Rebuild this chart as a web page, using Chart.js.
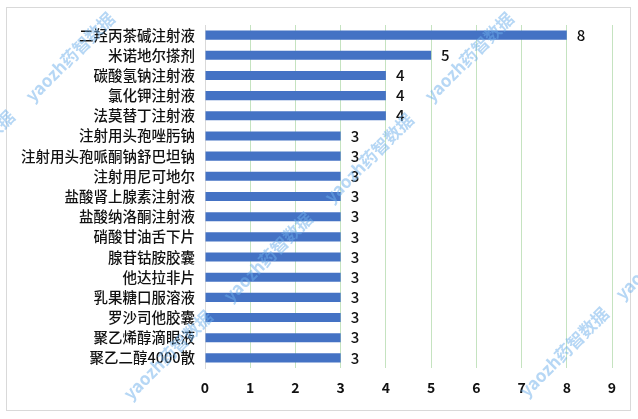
<!DOCTYPE html>
<html>
<head>
<meta charset="utf-8">
<script src="https://cdn.jsdelivr.net/npm/chart.js@4"></script>
<style>
  html, body { margin: 0; padding: 0; background: #fff; }
  #wrap { width: 638px; height: 419px; position: relative; }
</style>
</head>
<body>
<div id="wrap"><canvas id="grafica" width="638" height="419"></canvas></div>
<script>
// 药品名称 和 数量
const categorias = ["二羟丙茶碱注射液", "米诺地尔搽剂", "碳酸氢钠注射液", "氯化钾注射液", "法莫替丁注射液",
  "注射用头孢唑肟钠", "注射用头孢哌酮钠舒巴坦钠", "注射用尼可地尔", "盐酸肾上腺素注射液", "盐酸纳洛酮注射液",
  "硝酸甘油舌下片", "腺苷钴胺胶囊", "他达拉非片", "乳果糖口服溶液", "罗沙司他胶囊", "聚乙烯醇滴眼液", "聚乙二醇4000散"];
const valores = [8, 5, 4, 4, 4, 3, 3, 3, 3, 3, 3, 3, 3, 3, 3, 3, 3];
const marcaAgua = "yaozh药智数据";

const fuente = '"Noto Sans CJK SC", "Noto Sans", sans-serif';

// etiquetas al final de cada barra
const etiquetas = {
  id: 'etiquetas',
  afterDatasetsDraw(chart) {
    const ctx = chart.ctx;
    const meta = chart.getDatasetMeta(0);
    ctx.save();
    ctx.fillStyle = '#111';
    ctx.font = '500 15px ' + fuente;
    ctx.textAlign = 'left';
    ctx.textBaseline = 'middle';
    meta.data.forEach((bar, i) => {
      ctx.fillText(valores[i], bar.x + 10, bar.y);
    });
    ctx.restore();
  }
};

// marco y marca de agua
const marco = {
  id: 'marco',
  beforeDraw(chart) {
    const ctx = chart.ctx;
    ctx.save();
    ctx.strokeStyle = '#d9d9d9';
    ctx.lineWidth = 1;
    ctx.strokeRect(6.5, 7.5, 624, 403);
    ctx.restore();
  },
  afterDraw(chart) {
    const ctx = chart.ctx;
    const puntos = [[70, 57], [168, 355], [268, 257], [369, 158], [469, 57], [564, 352], [660, 255], [-30, 155]];
    ctx.save();
    ctx.fillStyle = 'rgba(110,175,235,0.5)';
    ctx.font = 'bold 17px ' + fuente;
    ctx.textAlign = 'center';
    ctx.textBaseline = 'middle';
    for (const [x, y] of puntos) {
      ctx.save();
      ctx.translate(x, y);
      ctx.rotate(-Math.PI / 4);
      ctx.fillText(marcaAgua, 0, 0);
      ctx.restore();
    }
    ctx.restore();
  }
};

var context = document.getElementById('grafica').getContext('2d');
var config = {
  type: 'bar',
  data: {
    labels: categorias,
    datasets: [{
      data: valores,
      backgroundColor: '#4472C4',
      barPercentage: 0.45,
      categoryPercentage: 1
    }]
  },
  options: {
    indexAxis: 'y',
    responsive: false,
    animation: false,
    layout: { padding: { top: 25, right: 26, bottom: 0, left: 0 } },
    plugins: { legend: { display: false }, tooltip: { enabled: false } },
    scales: {
      x: {
        min: 0, max: 9,
        afterFit: s => { s.height = 51; },
        ticks: { stepSize: 1, color: '#111', padding: 11, font: { family: fuente, size: 14, weight: 'bold' } },
        grid: {
          drawTicks: false,
          color: c => c.tick && c.tick.value === 0 ? '#d9d9d9' : '#c5e3c0'
        },
        border: { display: false }
      },
      y: {
        afterFit: s => { s.width = 205; },
        ticks: { color: '#111', padding: 10, autoSkip: false, font: { family: fuente, size: 14.5, weight: '500' } },
        grid: { display: false, drawTicks: false },
        border: { display: true, color: '#d9d9d9' }
      }
    }
  },
  plugins: [etiquetas, marco]
};
window.myChart = new Chart(context, config);
</script>
</body>
</html>
